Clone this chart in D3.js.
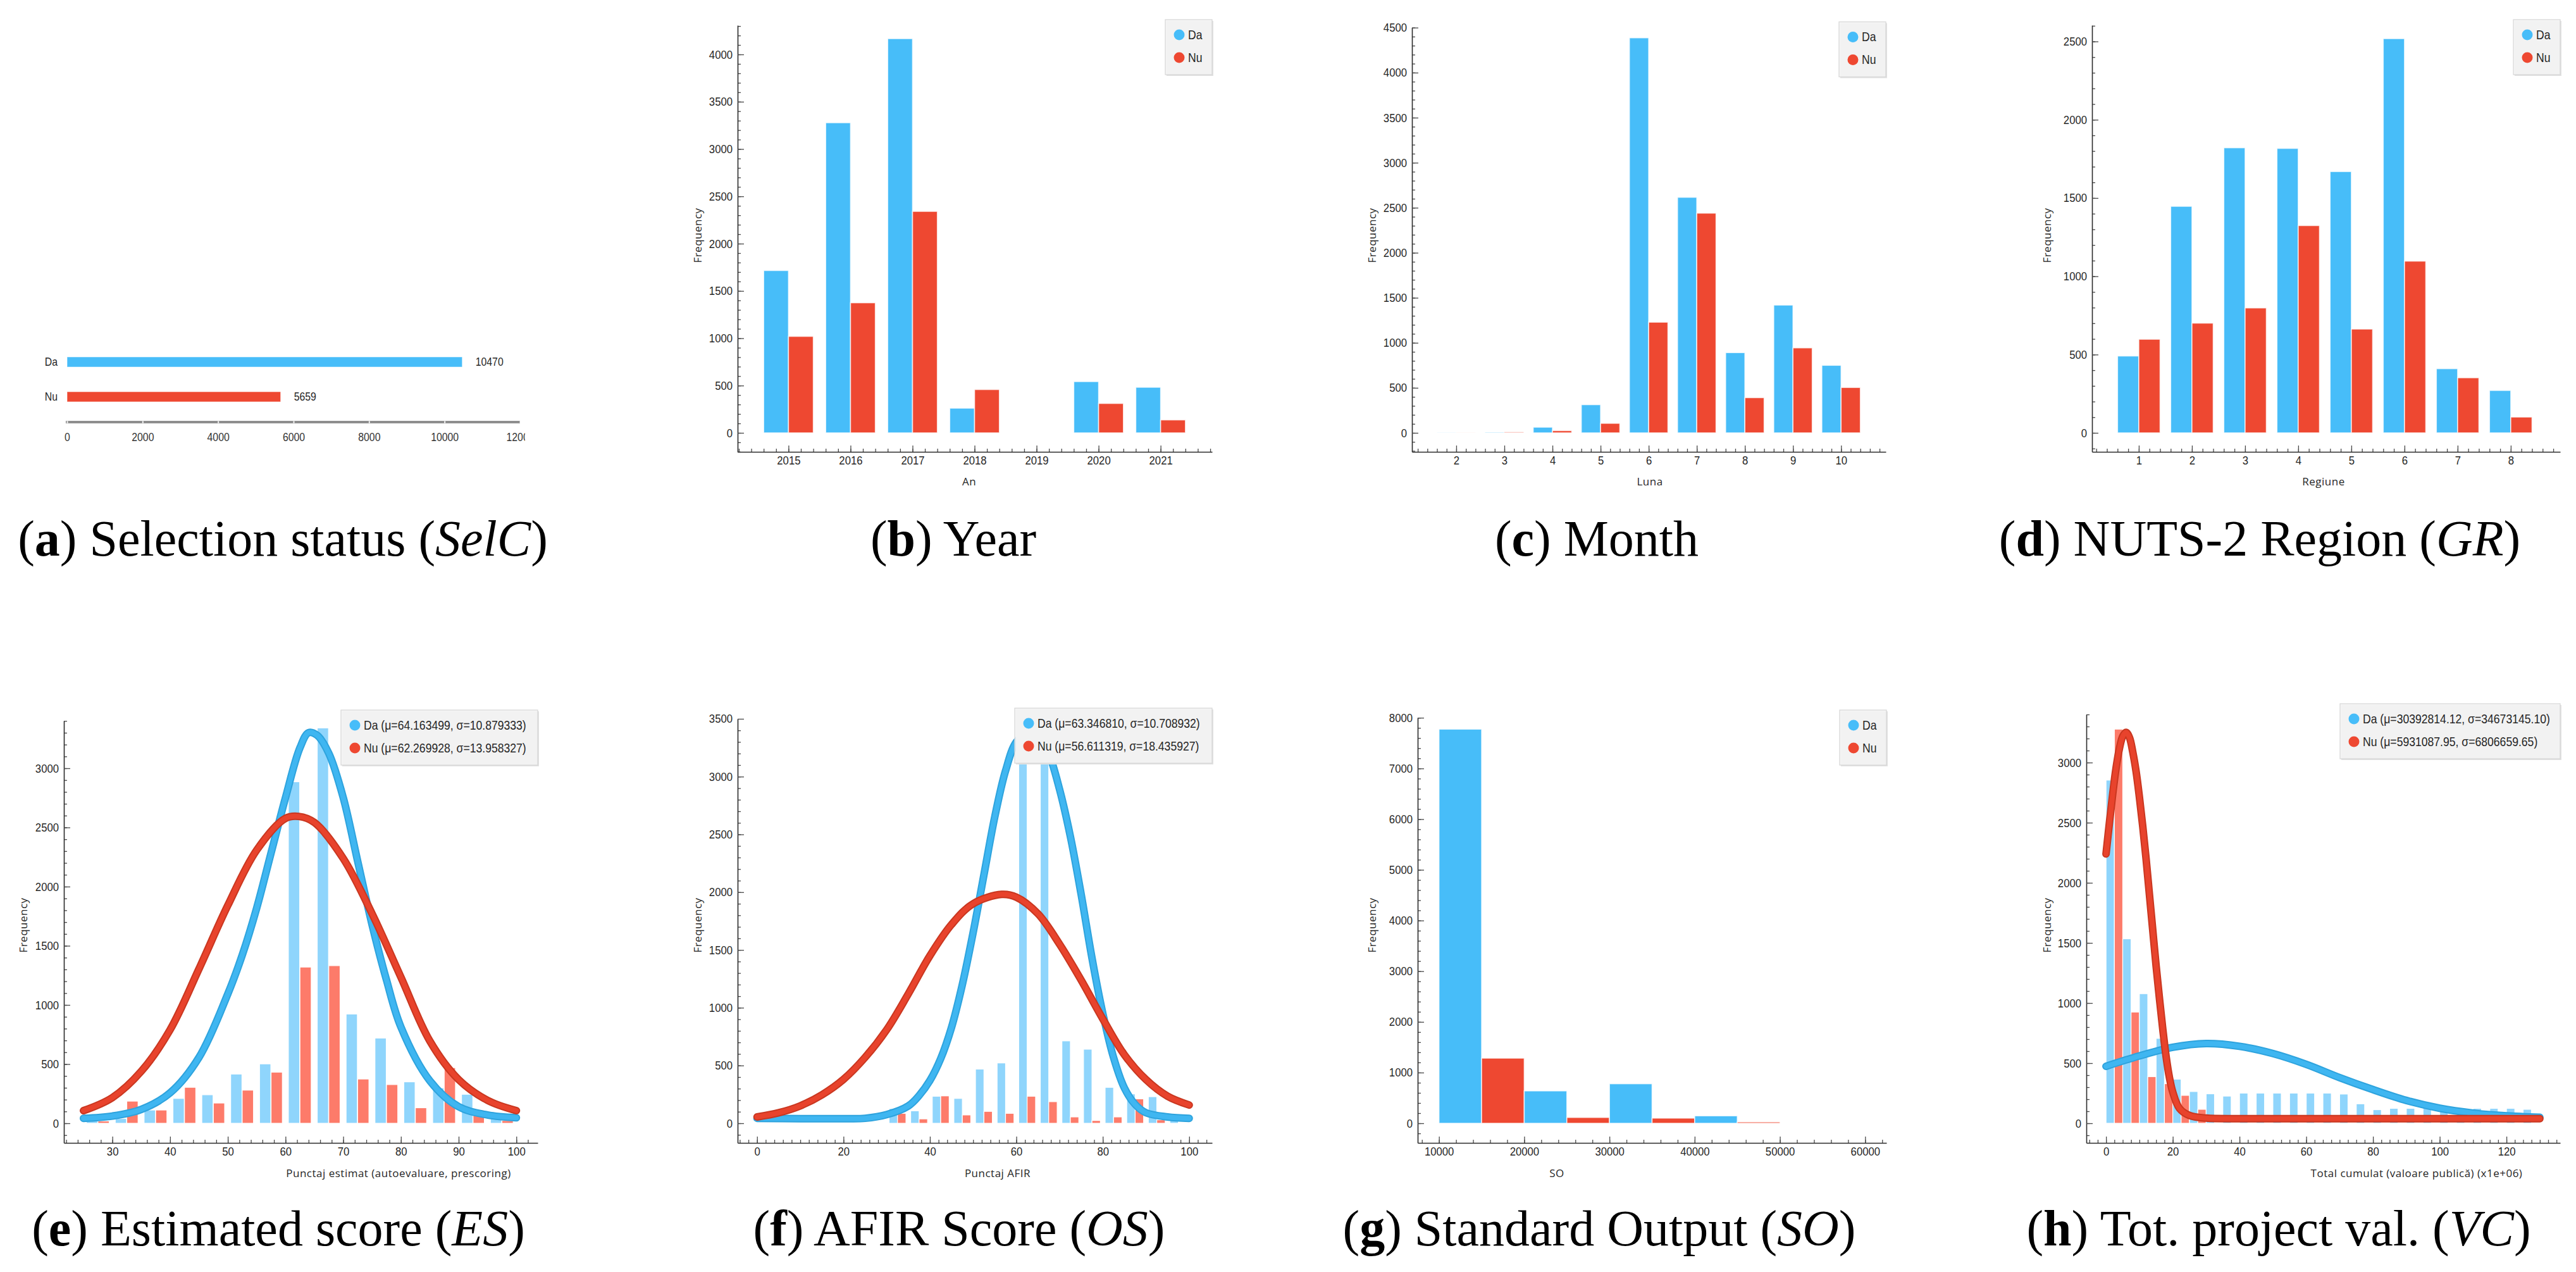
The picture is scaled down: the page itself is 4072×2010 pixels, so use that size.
<!DOCTYPE html>
<html>
<head>
<meta charset="utf-8">
<script src="https://d3js.org/d3.v7.min.js"></script>
<style>
  body { margin: 0; background: #fff; }
  svg { display: block; }
  .ax .domain { stroke: #2b2b2b; stroke-width: 1.6; }
  .ax line { stroke: #4a4a4a; stroke-width: 1.3; }
  .ax text, text.n { font-family: "Liberation Sans", Arial, sans-serif; font-size: 19px; fill: #262626; }
  .fl { font-family: "Open Sans", "Noto Sans", sans-serif; font-size: 17px; fill: #262626; letter-spacing: 0.5px; }
  .cap { font-family: "Liberation Serif", "Times New Roman", serif; font-size: 80px; fill: #000; }
</style>
</head>
<body>
<svg id="fig" width="4072" height="2010"></svg>
<script>
// (a) selection status
var selCats = ["Da", "Nu"];
var selCounts = [10470, 5659];
var selTicks = [0, 2000, 4000, 6000, 8000, 10000, 12000];

// (b) year
var years = [2015, 2016, 2017, 2018, 2019, 2020, 2021];
var yearDa = [1716, 3278, 4167, 261, 0, 542, 482];
var yearNu = [1020, 1375, 2341, 458, 0, 311, 137];

// (c) month
var months = [2, 3, 4, 5, 6, 7, 8, 9, 10];
var monthDa = [2, 6, 63, 313, 4387, 2616, 891, 1419, 750];
var monthNu = [1, 10, 25, 106, 1229, 2440, 391, 944, 504];

// (d) region
var regions = [1, 2, 3, 4, 5, 6, 7, 8];
var regionDa = [491, 1447, 1821, 1817, 1669, 2518, 410, 271];
var regionNu = [598, 701, 798, 1324, 663, 1097, 352, 101];

// (e) estimated score, bins of 5
var esBins = [25, 30, 35, 40, 45, 50, 55, 60, 65, 70, 75, 80, 85, 90, 95];
var esDa = [30, 40, 112, 210, 241, 416, 502, 2886, 3341, 923, 720, 350, 299, 245, 70];
var esNu = [19, 187, 112, 304, 171, 280, 432, 1320, 1332, 374, 327, 131, 470, 112, 23];
var esFitXDa = [25, 30, 35, 40, 45, 50, 52.5, 55, 57.5, 60, 62.5, 64, 65.5, 67.5, 70, 72.5, 75, 77.5, 80, 85, 90, 95, 100];
var esFitDa = [42, 61, 117, 257, 556, 1093, 1421, 1818, 2285, 2752, 3173, 3301, 3278, 3126, 2752, 2215, 1678, 1210, 813, 360, 140, 70, 47];
var esFitXNu = [25, 30, 35, 40, 45, 50, 55, 60, 62.3, 65, 70, 75, 80, 85, 90, 95, 100];
var esFitNu = [107, 217, 439, 790, 1304, 1841, 2308, 2577, 2593, 2542, 2238, 1771, 1234, 696, 369, 194, 107];

// (f) AFIR score, bins of 5
var afBins = [0, 5, 10, 15, 20, 25, 30, 35, 40, 45, 50, 55, 60, 65, 70, 75, 80, 85, 90, 95];
var afDa = [0, 0, 0, 0, 0, 3, 127, 108, 234, 215, 469, 522, 3416, 3110, 713, 641, 311, 254, 230, 55];
var afNu = [5, 0, 0, 0, 4, 5, 86, 38, 237, 72, 103, 86, 234, 187, 55, 24, 55, 211, 30, 0];
var afFitXDa = [0, 10, 20, 25, 30, 35, 37.5, 40, 42.5, 45, 47.5, 50, 52.5, 55, 57.5, 60, 63.3, 65, 67.5, 70, 72.5, 75, 77.5, 80, 82.5, 85, 87.5, 90, 95, 100];
var afFitDa = [43, 40, 40, 43, 75, 150, 240, 370, 560, 830, 1200, 1650, 2150, 2650, 3050, 3300, 3395, 3368, 3200, 2890, 2483, 1981, 1431, 952, 569, 306, 163, 91, 55, 43];
var afFitXNu = [0, 5, 10, 15, 20, 25, 30, 35, 40, 45, 50, 56.6, 60, 65, 70, 75, 80, 85, 90, 95, 100];
var afFitNu = [55, 91, 151, 246, 380, 570, 810, 1120, 1450, 1720, 1900, 1981, 1957, 1813, 1550, 1239, 904, 593, 378, 234, 158];

// (g) standard output, bins of 5000
var soBins = [10000, 15000, 20000, 25000, 30000, 35000, 40000, 45000];
var soDa = [7775, 0, 639, 0, 780, 0, 147, 0];
var soNu = [0, 1285, 0, 115, 0, 102, 0, 26];

// (h) total project value (x1e6), bins of 5
var vcBins = [0, 5, 10, 15, 20, 25, 30, 35, 40, 45, 50, 55, 60, 65, 70, 75, 80, 85, 90, 95, 100, 105, 110, 115, 120, 125];
var vcDa = [2854, 1534, 1078, 706, 367, 264, 245, 226, 251, 251, 251, 251, 251, 251, 243, 162, 113, 124, 124, 124, 110, 110, 124, 124, 124, 116];
var vcNu = [3278, 925, 388, 329, 232, 116, 0, 0, 0, 0, 0, 0, 0, 0, 0, 0, 0, 0, 0, 0, 0, 0, 0, 0, 0, 0];
var vcFitXDa = [0, 10, 20, 30, 40, 50, 60, 70, 80, 90, 100, 110, 120, 130];
var vcFitDa = [474, 560, 632, 663, 640, 580, 490, 380, 280, 190, 125, 85, 62, 50];
var vcFitXNu = [0, 1, 2, 3, 4, 5, 6, 7, 8, 9, 10, 11, 12, 13, 14, 15, 16, 17, 18, 19, 20, 22, 25, 30, 40, 60, 80, 100, 120, 130];
var vcFitNu = [2240, 2496, 2739, 2954, 3116, 3218, 3251, 3210, 3089, 2927, 2712, 2469, 2199, 1903, 1606, 1310, 1040, 784, 555, 380, 259, 124, 65, 43, 38, 38, 38, 38, 38, 38];

var cDa = "#47bdf9", cNu = "#ee4831";
var cDaLight = "#8fd5fc", cNuLight = "#fd7b6a";
var cDaLine = "#3fb6f1", cNuLine = "#e8432c";

var svg = d3.select("#fig");

// ---------- helpers ----------
function frame(o) {
  var k = o.ppk / 1000;
  var x = d3.scaleLinear().domain(o.xDom).range([o.left, o.right]);
  var y = d3.scaleLinear().domain([-(o.bottom - o.y0) / k, (o.y0 - o.top) / k]).range([o.bottom, o.top]);
  return {x: x, y: y};
}

function axes(o, x, y) {
  var yd = y.domain(), xd = x.domain();
  var yMin = d3.range(Math.ceil(yd[0] / o.yMinor) * o.yMinor, yd[1] + 0.001, o.yMinor);
  var yMaj = d3.range(0, o.yTop + 1, o.yMajor);
  var xMin = d3.range(Math.ceil(xd[0] / o.xMinor - 1e-6) * o.xMinor, xd[1], o.xMinor);

  var g1 = svg.append("g").attr("class", "ax").attr("transform", "translate(" + o.left + ",0)")
    .call(d3.axisLeft(y).tickValues(yMin).tickSize(-5).tickSizeOuter(0).tickFormat(""));
  g1.select(".domain").remove();
  svg.append("g").attr("class", "ax").attr("transform", "translate(" + o.left + ",0)")
    .call(d3.axisLeft(y).tickValues(yMaj).tickSize(-10).tickSizeOuter(0).tickPadding(8).tickFormat(d3.format("d")));

  var g2 = svg.append("g").attr("class", "ax").attr("transform", "translate(0," + o.bottom + ")")
    .call(d3.axisBottom(x).tickValues(xMin).tickSize(-5).tickSizeOuter(0).tickFormat(""));
  g2.select(".domain").remove();
  svg.append("g").attr("class", "ax").attr("transform", "translate(0," + o.bottom + ")")
    .call(d3.axisBottom(x).tickValues(o.xTicks).tickSize(-10).tickSizeOuter(0).tickPadding(7).tickFormat(d3.format("d")));

  svg.append("text").attr("class", "fl")
    .attr("transform", "translate(" + o.flX + "," + o.flY + ") rotate(-90)")
    .attr("text-anchor", "middle").attr("dominant-baseline", "central")
    .text("Frequency");
  svg.append("text").attr("class", "fl")
    .attr("x", o.xlX).attr("y", o.xlY).attr("text-anchor", "middle")
    .text(o.xlabel);
}

function legend(x0, y0, w, items) {
  var g = svg.append("g");
  g.append("rect").attr("x", x0 + 2).attr("y", y0 + 2).attr("width", w).attr("height", 87)
    .attr("fill", "#e2e2e2");
  g.append("rect").attr("x", x0).attr("y", y0).attr("width", w).attr("height", 87)
    .attr("fill", "rgba(244,244,244,0.85)").attr("stroke", "#d6d6d6").attr("stroke-width", 1.2);
  items.forEach(function(it, i) {
    var cy = y0 + 24 + i * 36;
    g.append("circle").attr("cx", x0 + 22).attr("cy", cy).attr("r", 8.5).attr("fill", it.color);
    g.append("text").attr("class", "n").style("font-size", "20px").attr("x", x0 + 36).attr("y", cy)
      .attr("dominant-baseline", "central").text(it.label);
  });
}

function grouped(o, cats, da, nu) {
  var s = frame(o), x = s.x, y = s.y;
  var g = svg.append("g");
  cats.forEach(function(c, i) {
    [[da[i], c - 0.4, cDa], [nu[i], c, cNu]].forEach(function(b) {
      g.append("rect")
        .attr("x", x(b[1])).attr("width", x(b[1] + 0.4) - x(b[1]))
        .attr("y", y(b[0])).attr("height", Math.max(0, y(0) - y(b[0])))
        .attr("fill", b[2]).attr("stroke", "rgba(255,255,255,0.75)").attr("stroke-width", 1.6);
    });
  });
  axes(o, x, y);
  legend(o.right - 74, o.top - 9, 74, [{label: "Da", color: cDa}, {label: "Nu", color: cNu}]);
}

function fitted(o, bins, da, nu, offDa, offNu, bw, fits, labels, legW) {
  var s = frame(o), x = s.x, y = s.y;
  var g = svg.append("g");
  bins.forEach(function(b, i) {
    [[da[i], b + offDa, cDaLight], [nu[i], b + offNu, cNuLight]].forEach(function(r) {
      if (!r[0]) return;
      g.append("rect")
        .attr("x", x(r[1])).attr("width", x(r[1] + bw) - x(r[1]))
        .attr("y", y(r[0])).attr("height", y(0) - y(r[0]))
        .attr("fill", r[2]).attr("stroke", "#fff").attr("stroke-width", 1.2);
    });
  });
  var line = d3.line().x(function(d) { return x(d[0]); }).y(function(d) { return y(d[1]); })
    .curve(d3.curveCatmullRom.alpha(0.5));
  fits.forEach(function(f) {
    var pts = d3.zip(f.xs, f.ys);
    g.append("path").attr("d", line(pts)).attr("fill", "none")
      .attr("stroke", f.edge).attr("stroke-width", 12).attr("stroke-linecap", "round").attr("stroke-linejoin", "round");
    g.append("path").attr("d", line(pts)).attr("fill", "none")
      .attr("stroke", f.color).attr("stroke-width", 8).attr("stroke-linecap", "round").attr("stroke-linejoin", "round");
  });
  axes(o, x, y);
  legend(o.right - legW, o.top - 17, legW, [{label: labels[0], color: cDa}, {label: labels[1], color: cNu}]);
}

function caption(cx, y, letter, words, math) {
  var t = svg.append("text").attr("class", "cap").attr("x", cx).attr("y", y).attr("text-anchor", "middle");
  t.append("tspan").text("(");
  t.append("tspan").attr("font-weight", "bold").text(letter);
  t.append("tspan").text(") " + words + (math ? " (" : ""));
  if (math) {
    t.append("tspan").attr("font-style", "italic").text(math);
    t.append("tspan").text(")");
  }
}

// ---------- (a) ----------
(function() {
  svg.append("defs").append("clipPath").attr("id", "clipA")
    .append("rect").attr("x", 0).attr("y", 0).attr("width", 830).attr("height", 900);
  var g = svg.append("g").attr("clip-path", "url(#clipA)");
  var xa = d3.scaleLinear().domain([0, 12000]).range([106, 822]);
  var ya = d3.scalePoint().domain(selCats).range([572, 627]);
  var cols = [cDa, cNu];
  selCats.forEach(function(c, i) {
    g.append("rect").attr("x", xa(0)).attr("y", ya(c) - 8)
      .attr("width", xa(selCounts[i]) - xa(0)).attr("height", 16)
      .attr("fill", cols[i]).attr("stroke", "rgba(255,255,255,0.6)").attr("stroke-width", 1);
    g.append("text").attr("class", "n").style("font-size", "18px")
      .attr("x", 91).attr("y", ya(c)).attr("text-anchor", "end").attr("dominant-baseline", "central").text(c);
    g.append("text").attr("class", "n").style("font-size", "18px")
      .attr("x", xa(selCounts[i]) + 21).attr("y", ya(c)).attr("dominant-baseline", "central").text(selCounts[i]);
  });
  var ax = g.append("g").attr("transform", "translate(0,667)")
    .call(d3.axisBottom(xa).tickValues(selTicks).tickSize(3).tickSizeOuter(0).tickPadding(14).tickFormat(d3.format("d")));
  ax.select(".domain").attr("stroke", "#8e8e8e").attr("stroke-width", 4).attr("d", "M104,0H822");
  ax.selectAll(".tick line").attr("stroke", "#fff").attr("stroke-width", 2).attr("y1", -1.5).attr("y2", 1.5);
  ax.selectAll("text").attr("class", "n").style("font-size", "18px").style("fill", "#333");
})();

// ---------- (b)(c)(d) ----------
grouped({left: 1166, right: 1916, top: 40, bottom: 714, y0: 684, ppk: 149.5, xDom: [2014.18, 2021.83],
  yMajor: 500, yMinor: 100, yTop: 4000, xTicks: years, xMinor: 0.2,
  flX: 1102, flY: 372, xlabel: "An", xlX: 1532, xlY: 767}, years, yearDa, yearNu);

grouped({left: 2232, right: 2981, top: 43.5, bottom: 714, y0: 684, ppk: 142.3, xDom: [1.08, 10.93],
  yMajor: 500, yMinor: 100, yTop: 4500, xTicks: months, xMinor: 0.2,
  flX: 2168, flY: 372, xlabel: "Luna", xlX: 2608, xlY: 767}, months, monthDa, monthNu);

grouped({left: 3307, right: 4047, top: 40, bottom: 714, y0: 684, ppk: 247.4, xDom: [0.12, 8.93],
  yMajor: 500, yMinor: 100, yTop: 2500, xTicks: regions, xMinor: 0.2,
  flX: 3235, flY: 372, xlabel: "Regiune", xlX: 3673, xlY: 767}, regions, regionDa, regionNu);

// ---------- (e) ----------
fitted({left: 101, right: 850, top: 1139, bottom: 1806, y0: 1775, ppk: 187, xDom: [21.6, 103.7],
  yMajor: 500, yMinor: 100, yTop: 3000, xTicks: d3.range(30, 101, 10), xMinor: 2,
  flX: 36, flY: 1462, xlabel: "Punctaj estimat (autoevaluare, prescoring)", xlX: 630, xlY: 1860},
  esBins, esDa, esNu, 0.5, 2.5, 1.95,
  [{xs: esFitXDa, ys: esFitDa, color: cDaLine, edge: "#2ea3dd"},
   {xs: esFitXNu, ys: esFitNu, color: cNuLine, edge: "#c93720"}],
  ["Da (\u03bc=64.163499, \u03c3=10.879333)", "Nu (\u03bc=62.269928, \u03c3=13.958327)"], 311);

// ---------- (f) ----------
fitted({left: 1166, right: 1916, top: 1136, bottom: 1806, y0: 1775, ppk: 182.6, xDom: [-4.5, 105.3],
  yMajor: 500, yMinor: 100, yTop: 3500, xTicks: d3.range(0, 101, 20), xMinor: 2,
  flX: 1102, flY: 1462, xlabel: "Punctaj AFIR", xlX: 1577, xlY: 1860},
  afBins, afDa, afNu, 0.55, 2.5, 1.95,
  [{xs: afFitXDa, ys: afFitDa, color: cDaLine, edge: "#2ea3dd"},
   {xs: afFitXNu, ys: afFitNu, color: cNuLine, edge: "#c93720"}],
  ["Da (\u03bc=63.346810, \u03c3=10.708932)", "Nu (\u03bc=56.611319, \u03c3=18.435927)"], 312);

// ---------- (g) ----------
(function() {
  var o = {left: 2241, right: 2982, top: 1134, bottom: 1806, y0: 1775, ppk: 80.1, xDom: [7500, 62500],
    yMajor: 1000, yMinor: 200, yTop: 8000, xTicks: d3.range(10000, 60001, 10000), xMinor: 2000,
    flX: 2168, flY: 1462, xlabel: "SO", xlX: 2461, xlY: 1860};
  var s = frame(o), x = s.x, y = s.y;
  soBins.forEach(function(b, i) {
    [[soDa[i], cDa], [soNu[i], cNu]].forEach(function(r) {
      if (!r[0]) return;
      svg.append("rect").attr("x", x(b)).attr("width", x(b + 5000) - x(b))
        .attr("y", y(r[0])).attr("height", y(0) - y(r[0]))
        .attr("fill", r[1]).attr("stroke", "rgba(255,255,255,0.75)").attr("stroke-width", 1.6);
    });
  });
  axes(o, x, y);
  legend(o.right - 74, o.top - 12, 74, [{label: "Da", color: cDa}, {label: "Nu", color: cNu}]);
})();

// ---------- (h) ----------
fitted({left: 3298, right: 4047, top: 1129, bottom: 1806, y0: 1775, ppk: 190, xDom: [-5.9, 136.1],
  yMajor: 500, yMinor: 100, yTop: 3000, xTicks: d3.range(0, 121, 20), xMinor: 2.5,
  flX: 3235, flY: 1462, xlabel: "Total cumulat (valoare public\u0103) (x1e+06)", xlX: 3820, xlY: 1860},
  vcBins, vcDa, vcNu, 0, 2.5, 2.5,
  [{xs: vcFitXDa, ys: vcFitDa, color: cDaLine, edge: "#2ea3dd"},
   {xs: vcFitXNu, ys: vcFitNu, color: cNuLine, edge: "#c93720"}],
  ["Da (\u03bc=30392814.12, \u03c3=34673145.10)", "Nu (\u03bc=5931087.95, \u03c3=6806659.65)"], 348);

// ---------- captions ----------
caption(447, 878, "a", "Selection status", "SelC");
caption(1507, 878, "b", "Year", null);
caption(2524, 878, "c", "Month", null);
caption(3572, 878, "d", "NUTS-2 Region", "GR");
caption(440, 1968, "e", "Estimated score", "ES");
caption(1516, 1968, "f", "AFIR Score", "OS");
caption(2528, 1968, "g", "Standard Output", "SO");
caption(3602, 1968, "h", "Tot. project val.", "VC");

// narrow the sans labels horizontally (scale about each label's own x)
svg.selectAll(".ax text, text.n").each(function() {
  var x0 = +(this.getAttribute("x") || 0);
  d3.select(this).attr("transform", "translate(" + x0 + ",0) scale(0.88,1) translate(" + (-x0) + ",0)");
});
</script>
</body>
</html>
